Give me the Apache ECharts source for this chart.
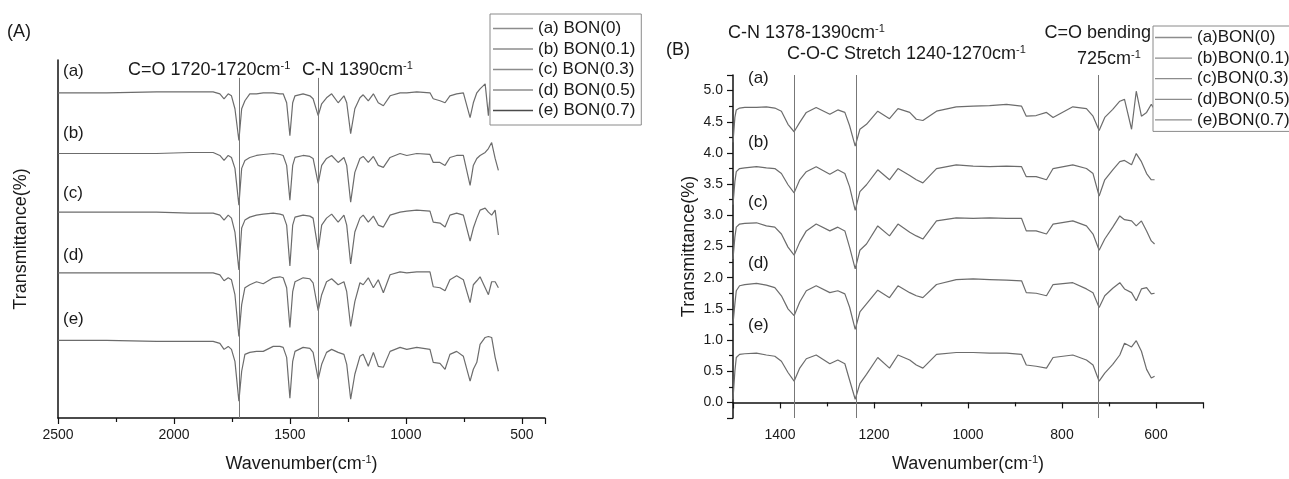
<!DOCTYPE html>
<html><head><meta charset="utf-8">
<script src="https://cdn.jsdelivr.net/npm/echarts@6/dist/echarts.min.js"></script>
<style>html,body{margin:0;padding:0;background:#fff}#c{width:1289px;height:479px}</style>
</head><body><div id="c"></div>
<script>
// ---------- Panel (A) data ----------
const wnLeft = [2500,2290,2075,1932,1831,1802,1784,1766,1752,1737,1720,1708,1694,1673,1644,1615,1572,1543,1529,1514,1500,1488,1478,1443,1414,1400,1378,1363,1342,1320,1292,1267,1255,1238,1220,1198,1184,1162,1140,1119,1097,1068,1025,996,953,896,882,853,831,810,781,752,723,709,694,680,658,644,630,615,601];
const leftA = [327,327,328,328,328,326,321,326,324,311,279,311,319,326,326,327,327,326,326,317,284,317,324,326,324,321,304,316,322,326,317,324,317,286,311,322,325,319,326,317,314,324,327,327,328,327,321,319,317,324,326,327,302,317,327,331,336,304,344,330,325];
const leftB = [266,266,266,267,267,264,259,264,262,251,214,251,259,262,264,265,266,265,264,254,219,254,262,264,263,261,236,254,261,264,257,262,254,217,247,261,263,257,263,254,252,262,266,264,266,265,257,257,254,262,264,264,234,254,261,264,267,271,277,261,249];
const leftC = [207,207,207,206,206,204,199,204,201,187,149,191,199,202,204,205,206,205,204,194,153,194,202,204,203,201,169,194,201,205,197,204,194,155,187,201,204,197,203,194,192,204,207,208,209,208,197,196,192,204,206,204,178,191,201,209,211,207,204,209,184];
const leftD = [146,146,146,146,146,144,138,141,139,124,82,114,131,134,137,135,141,142,141,131,91,127,137,141,140,136,108,124,137,140,134,137,127,92,117,136,134,141,131,139,126,144,147,146,147,147,132,131,128,139,143,139,116,134,138,142,131,124,137,137,131];
const leftE = [78,78,77,77,77,75,69,72,69,57,17,47,64,66,67,67,72,72,71,61,20,57,67,71,70,66,39,54,66,69,66,64,54,19,44,62,64,52,66,52,51,67,71,69,71,69,56,55,49,64,67,62,37,49,56,74,81,82,81,61,47];
const leftNames = ['(a) BON(0)','(b) BON(0.1)','(c) BON(0.3)','(d) BON(0.5)','(e) BON(0.7)'];
const leftMarkers = [1720, 1378];
const leftMarkerTop = 342;

// ---------- Panel (B) data ----------
const wnRight = [1500,1496,1493,1486,1475,1450,1429,1411,1397,1383,1370,1358,1344,1323,1294,1277,1262,1252,1240,1230,1216,1192,1167,1149,1124,1110,1096,1067,1025,989,954,918,886,876,855,833,819,777,748,734,721,709,692,677,667,652,642,631,620,610,603];
const rightA = [4.17,4.57,4.69,4.72,4.73,4.73,4.74,4.72,4.67,4.46,4.34,4.49,4.65,4.73,4.62,4.69,4.65,4.44,4.11,4.38,4.46,4.67,4.55,4.71,4.65,4.54,4.52,4.67,4.74,4.75,4.76,4.78,4.75,4.59,4.60,4.65,4.57,4.74,4.71,4.59,4.36,4.57,4.70,4.83,4.86,4.38,4.99,4.59,4.65,4.78,4.70];
const rightB = [3.17,3.54,3.70,3.75,3.76,3.78,3.76,3.75,3.67,3.49,3.36,3.57,3.70,3.78,3.66,3.73,3.67,3.46,3.08,3.38,3.49,3.73,3.57,3.75,3.64,3.57,3.52,3.75,3.81,3.79,3.78,3.79,3.78,3.62,3.62,3.57,3.75,3.81,3.75,3.67,3.31,3.57,3.73,3.86,3.88,3.81,3.99,3.86,3.67,3.57,3.57];
const rightC = [2.30,2.65,2.81,2.86,2.87,2.88,2.83,2.81,2.70,2.49,2.36,2.57,2.75,2.86,2.75,2.81,2.75,2.49,2.14,2.44,2.54,2.83,2.67,2.86,2.73,2.67,2.62,2.91,2.96,2.95,2.96,2.95,2.95,2.75,2.75,2.70,2.86,2.91,2.83,2.70,2.44,2.62,2.81,2.99,2.93,2.91,2.83,2.91,2.75,2.59,2.54];
const rightD = [1.26,1.58,1.79,1.87,1.89,1.91,1.88,1.84,1.71,1.50,1.39,1.61,1.79,1.87,1.76,1.79,1.74,1.53,1.17,1.45,1.58,1.80,1.68,1.87,1.76,1.71,1.68,1.89,1.97,1.98,1.97,1.96,1.95,1.76,1.75,1.71,1.89,1.92,1.82,1.76,1.52,1.71,1.83,1.92,1.82,1.76,1.63,1.82,1.84,1.74,1.75];
const rightE = [0.05,0.50,0.72,0.77,0.78,0.79,0.76,0.74,0.66,0.48,0.34,0.55,0.70,0.76,0.62,0.68,0.62,0.36,0.05,0.30,0.45,0.72,0.55,0.76,0.68,0.60,0.55,0.77,0.80,0.80,0.79,0.79,0.77,0.60,0.58,0.55,0.72,0.76,0.68,0.60,0.34,0.47,0.61,0.76,0.95,0.89,0.99,0.82,0.53,0.39,0.42];
const rightNames = ['(a)BON(0)','(b)BON(0.1)','(c)BON(0.3)','(d)BON(0.5)','(e)BON(0.7)'];
const rightMarkers = [1370, 1238, 722];

// ---------- build ----------
const FONT = 'Liberation Sans, Arial, Helvetica, sans-serif';
const INK = '#1a1a1a';
const CURVE = '#6c6c6c';
const SUP = {sup: {fontSize: 11, lineHeight: 11, verticalAlign: 'top', fontFamily: FONT, fill: INK, color: INK}};

function txt(text, x, y, size, align) {
  return {type: 'text', x: x, y: y, silent: true, z: 10,
    style: {text: text, fontSize: size, fontFamily: FONT, fill: INK, align: align || 'left',
      verticalAlign: 'middle', lineHeight: size + 2, rich: SUP}};
}

const leftVals = [leftA, leftB, leftC, leftD, leftE];
const rightVals = [rightA, rightB, rightC, rightD, rightE];

const series = [];
leftNames.forEach((name, k) => {
  const s = {type: 'line', name: name, xAxisIndex: 0, yAxisIndex: 0,
    data: wnLeft.map((w, i) => [w, leftVals[k][i]]),
    symbol: 'none', silent: true, animation: false,
    lineStyle: {color: CURVE, width: 1.2}, itemStyle: {color: '#8a8a8a'}};
  if (k === 0) {
    s.markLine = {symbol: 'none', silent: true, animation: false, label: {show: false},
      lineStyle: {color: '#777', width: 1, type: 'solid'},
      data: leftMarkers.map(v => [{coord: [v, 0]}, {coord: [v, leftMarkerTop]}])};
  }
  series.push(s);
});
rightNames.forEach((name, k) => {
  const s = {type: 'line', name: name, xAxisIndex: 1, yAxisIndex: 1,
    data: wnRight.map((w, i) => [w, rightVals[k][i]]),
    symbol: 'none', silent: true, animation: false,
    lineStyle: {color: CURVE, width: 1.2}, itemStyle: {color: '#8a8a8a'}};
  if (k === 0) {
    s.markLine = {symbol: 'none', silent: true, animation: false, label: {show: false},
      lineStyle: {color: '#777', width: 1, type: 'solid'},
      data: rightMarkers.map(v => ({xAxis: v}))};
  }
  series.push(s);
});

const axisLine = {show: true, lineStyle: {color: '#111', width: 1.5}};
const nameStyle = {fontSize: 18, fontFamily: FONT, color: INK, lineHeight: 20,
  rich: {sup: {fontSize: 11, lineHeight: 11, verticalAlign: 'top', fontFamily: FONT, color: INK}}};
const tickLabel = {fontSize: 14, fontFamily: FONT, color: INK, margin: 10, formatter: v => String(v)};

const option = {
  backgroundColor: '#fff',
  animation: false,
  textStyle: {fontFamily: FONT},
  grid: [
    {left: 58, top: 60, width: 487, height: 361},
    {left: 733, top: 75, width: 470, height: 347}
  ],
  xAxis: [
    {gridIndex: 0, type: 'value', min: 400, max: 2500, inverse: true, splitNumber: 4,
      axisLine: axisLine, axisTick: {show: true, length: 6, lineStyle: {color: '#111', width: 1.2}},
      minorTick: {show: true, splitNumber: 2, length: 4, lineStyle: {color: '#111', width: 1.2}},
      axisLabel: Object.assign({}, tickLabel, {showMinLabel: false}),
      splitLine: {show: false}, minorSplitLine: {show: false},
      name: 'Wavenumber(cm{sup|-1})', nameLocation: 'middle', nameGap: 36, nameTextStyle: nameStyle},
    {gridIndex: 1, type: 'value', min: 500, max: 1500, inverse: true, splitNumber: 5,
      axisLine: axisLine, axisTick: {show: true, length: 6, lineStyle: {color: '#111', width: 1.2}},
      minorTick: {show: true, splitNumber: 2, length: 4, lineStyle: {color: '#111', width: 1.2}},
      axisLabel: Object.assign({}, tickLabel, {showMinLabel: false, showMaxLabel: false}),
      splitLine: {show: false}, minorSplitLine: {show: false},
      name: 'Wavenumber(cm{sup|-1})', nameLocation: 'middle', nameGap: 36, nameTextStyle: nameStyle}
  ],
  yAxis: [
    {gridIndex: 0, type: 'value', min: 0, max: 360,
      axisLine: axisLine, axisTick: {show: false}, axisLabel: {show: false}, splitLine: {show: false},
      name: 'Transmittance(%)', nameLocation: 'middle', nameGap: 27, nameTextStyle: nameStyle},
    {gridIndex: 1, type: 'value', min: -0.25, max: 5.25, splitNumber: 11,
      axisLine: axisLine, axisTick: {show: true, length: 6, lineStyle: {color: '#111', width: 1.2}},
      minorTick: {show: true, splitNumber: 2, length: 4, lineStyle: {color: '#111', width: 1.2}},
      axisLabel: Object.assign({}, tickLabel, {showMinLabel: false, showMaxLabel: false, formatter: v => v.toFixed(1)}),
      splitLine: {show: false}, minorSplitLine: {show: false},
      name: 'Transmittance(%)', nameLocation: 'middle', nameGap: 34, nameTextStyle: nameStyle}
  ],
  legend: [
    {left: 490, top: 14, orient: 'vertical', selectedMode: false, icon: 'rect',
      itemWidth: 40, itemHeight: 1.3, itemGap: 3.5, padding: [6, 6, 6, 3],
      borderColor: '#8a8a8a', borderWidth: 1, backgroundColor: '#fff',
      textStyle: {fontSize: 17, lineHeight: 17, fontFamily: FONT, color: INK},
      data: leftNames.map((n, i) => ({name: n, itemStyle: {color: i === 4 ? '#4a4a4a' : '#8c8c8c'}}))},
    {left: 1153, top: 26, orient: 'vertical', selectedMode: false, icon: 'rect',
      itemWidth: 37, itemHeight: 1.3, itemGap: 3.6, padding: [3, 6, 3, 2],
      borderColor: '#8a8a8a', borderWidth: 1, backgroundColor: '#fff',
      textStyle: {fontSize: 17, lineHeight: 17, fontFamily: FONT, color: INK},
      data: rightNames.map(n => ({name: n, itemStyle: {color: '#8c8c8c'}}))}
  ],
  graphic: [
    txt('(A)', 7, 32, 18),
    txt('C=O 1720-1720cm{sup|-1}', 128, 70, 18),
    txt('C-N 1390cm{sup|-1}', 302, 70, 18),
    txt('(a)', 63, 71, 17), txt('(b)', 63, 133, 17), txt('(c)', 63, 193, 17),
    txt('(d)', 63, 255, 17), txt('(e)', 63, 319, 17),
    txt('(B)', 666, 50, 18),
    txt('C-N 1378-1390cm{sup|-1}', 728, 33, 18),
    txt('C-O-C Stretch 1240-1270cm{sup|-1}', 787, 54, 18),
    txt('C=O bending', 1151, 33, 18, 'right'),
    txt('725cm{sup|-1}', 1077, 59, 18),
    txt('(a)', 748, 78, 17), txt('(b)', 748, 142, 17), txt('(c)', 748, 202, 17),
    txt('(d)', 748, 263, 17), txt('(e)', 748, 325, 17)
  ],
  series: series
};

const chart = echarts.init(document.getElementById('c'), null, {renderer: 'canvas'});
chart.setOption(option);
</script>
</body></html>
